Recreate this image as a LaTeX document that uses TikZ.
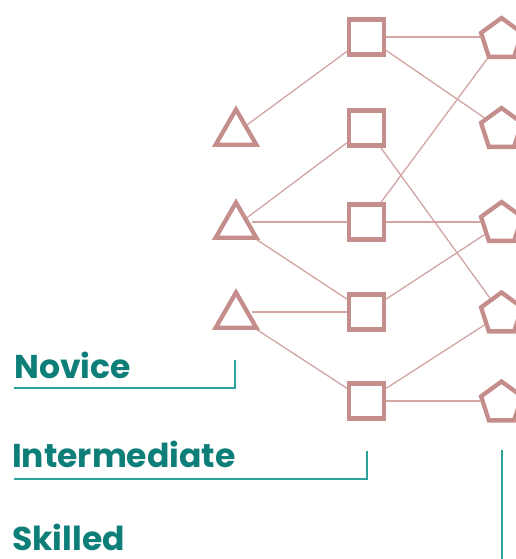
\documentclass[tikz,border=0pt]{standalone}
\usepackage{fontspec}
\setmainfont{Poppins}
\usetikzlibrary{shapes.geometric}
\definecolor{rose}{HTML}{C48E8C}
\definecolor{roseline}{HTML}{D2A4A2}
\definecolor{tealtext}{HTML}{0E7F78}
\definecolor{tealline}{HTML}{2BA39B}
\begin{document}
\begin{tikzpicture}[x=1pt,y=-1pt,
  tri/.style={regular polygon,regular polygon sides=3,draw=rose,line width=4.3pt,minimum size=47pt,inner sep=0pt},
  sq/.style={rectangle,draw=rose,line width=4.3pt,minimum size=35pt,inner sep=0pt},
  pent/.style={regular polygon,regular polygon sides=5,draw=rose,line width=4.3pt,minimum size=43pt,inner sep=0pt},
  link/.style={draw=roseline,line width=1.3pt},
  level/.style={anchor=base west,inner sep=0pt,text depth=0pt,text=tealtext,font=\bfseries\fontsize{33}{38}\selectfont},
  guide/.style={draw=tealline,line width=1.3pt}]
\useasboundingbox (0,0) rectangle (515,559);
% triangles
\node[tri] (t1) at (236,133) {};
\node[tri] (t2) at (236,226) {};
\node[tri] (t3) at (236,316) {};
% squares
\node[sq] (s1) at (366.5,37) {};
\node[sq] (s2) at (366.5,128) {};
\node[sq] (s3) at (366.5,222) {};
\node[sq] (s4) at (366.5,312) {};
\node[sq] (s5) at (366.5,401) {};
% pentagons
\node[pent] (p1) at (501.5,39.5) {};
\node[pent] (p2) at (501.5,129.5) {};
\node[pent] (p3) at (501.5,223.5) {};
\node[pent] (p4) at (501.5,314) {};
\node[pent] (p5) at (501.5,403) {};
% links
\draw[link] (t1) -- (s1);
\draw[link] (t2) -- (s2);
\draw[link] (t2.east |- s3.west) -- (s3.west);
\draw[link] (t2) -- (s4);
\draw[link] (t3.east |- s4.west) -- (s4.west);
\draw[link] (t3) -- (s5);
\draw[link] (s1.east) -- (s1.east -| p1.west);
\draw[link] (s1) -- (p2);
\draw[link] (s2) -- (p4);
\draw[link] (s3) -- (p1);
\draw[link] (s3.east) -- (s3.east -| p3.west);
\draw[link] (s4) -- (p3);
\draw[link] (s5) -- (p4);
\draw[link] (s5.east) -- (s5.east -| p5.west);
% levels
\node[level] (nov) at (14,378) {Novice};
\node[level] (int) at (12,467) {Intermediate};
\node[level] (ski) at (12,550) {Skilled};
\coordinate (n1) at (14,388);
\coordinate (n2) at (235,388);
\coordinate (n3) at (235,360);
\coordinate (i1) at (14,479);
\coordinate (i2) at (367,479);
\coordinate (i3) at (367,451);
\coordinate (k1) at (502,450);
\coordinate (k2) at (502,560);
\draw[guide] (n1) -- (n2) -- (n3);
\draw[guide] (i1) -- (i2) -- (i3);
\draw[guide] (k1) -- (k2);
\end{tikzpicture}
\end{document}
